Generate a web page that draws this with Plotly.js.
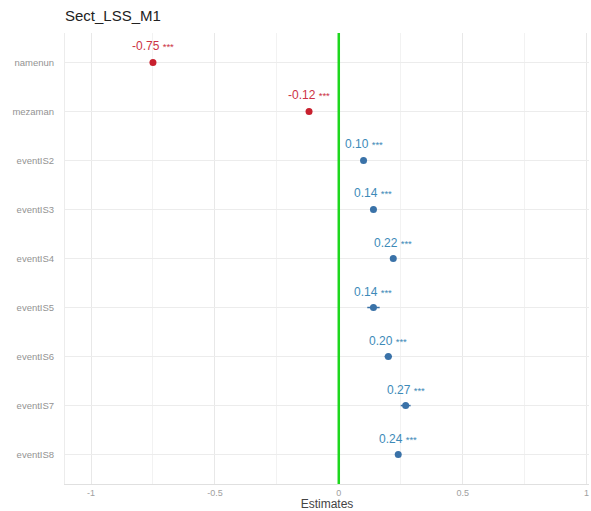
<!DOCTYPE html>
<html><head><meta charset="utf-8">
<script src="https://cdn.plot.ly/plotly-3.0.1.min.js"></script>
<style>html,body{margin:0;padding:0;background:#fff}</style>
</head><body>
<div id="chart" style="width:591px;height:511px"></div>
<script>
const terms = ["namenun","mezaman","eventIS2","eventIS3","eventIS4","eventIS5","eventIS6","eventIS7","eventIS8"];
const estimates = [-0.75, -0.12, 0.10, 0.14, 0.22, 0.14, 0.20, 0.27, 0.24];
const ciLow  = [-0.76, -0.13, 0.09, 0.13, 0.21, 0.115, 0.185, 0.25, 0.23];
const ciHigh = [-0.74, -0.11, 0.11, 0.15, 0.23, 0.165, 0.215, 0.29, 0.25];
const stars = ["***","***","***","***","***","***","***","***","***"];
const refLine = 0;

const red = "#c8202e", blue = "#3a72a8";
const redText = "#cc3344", blueText = "#3d8ab8";

function mk(sel, color) {
  const idx = estimates.map((v,i)=>i).filter(sel);
  return {
    type: "scatter", mode: "markers",
    x: idx.map(i=>estimates[i]), y: idx.map(i=>terms[i]),
    marker: {color: color, size: 7},
    error_x: {type: "data", symmetric: false,
      array: idx.map(i=>ciHigh[i]-estimates[i]),
      arrayminus: idx.map(i=>estimates[i]-ciLow[i]),
      color: color, thickness: 1.5, width: 0},
    hoverinfo: "x+y", showlegend: false
  };
}
const traces = [mk(i=>estimates[i]<0, red), mk(i=>estimates[i]>=0, blue)];

const annotations = terms.map((t,i)=>({
  x: estimates[i], y: t, xref: "x", yref: "y",
  text: estimates[i].toFixed(2) + ' <span style="font-size:9.5px">' + stars[i] + '</span>',
  showarrow: false, yshift: 16,
  font: {family: "Liberation Sans, Arial, sans-serif", size: 12, color: estimates[i]<0 ? redText : blueText}
}));

const layout = {
  width: 591, height: 511,
  margin: {l: 65, r: 2, t: 33, b: 27},
  paper_bgcolor: "#fff", plot_bgcolor: "#fff",
  font: {family: "Liberation Sans, Arial, sans-serif", color: "#444"},
  title: {text: "Sect_LSS_M1", x: 0, xref: "paper", xanchor: "left", y: 1, yref: "container", yanchor: "top", pad: {t: 10},
          font: {size: 15, color: "#222"}},
  xaxis: {
    range: [-1.105, 1.01], zeroline: false,
    tickvals: [-1,-0.5,0,0.5,1], ticktext: ["-1","-0.5","0","0.5","1"],
    showgrid: true, gridcolor: "#e8e8e8", gridwidth: 1,
    minor: {tickvals: [-0.75,-0.25,0.25,0.75], showgrid: true, gridcolor: "#f2f2f2", gridwidth: 1},
    showline: true, linecolor: "#e0e0e0", linewidth: 1,
    ticks: "", tickfont: {size: 9, color: "#a0a0a0"},
    title: {text: "Estimates", standoff: 4, font: {size: 12, color: "#444"}},
    fixedrange: true
  },
  yaxis: {
    type: "category", categoryorder: "array", categoryarray: terms,
    range: [8.6, -0.6], showgrid: true, gridcolor: "#ececec", gridwidth: 1,
    showline: true, linecolor: "#ececec", zeroline: false,
    ticks: "", tickfont: {size: 9.5, color: "#939393"}, ticklabelstandoff: 8,
    fixedrange: true
  },
  shapes: [{type: "line", xref: "x", yref: "paper", x0: refLine, x1: refLine, y0: 0, y1: 1,
            line: {color: "rgb(30,215,30)", width: 2.5}, layer: "above"}],
  annotations: annotations
};
Plotly.newPlot("chart", traces, layout, {displayModeBar: false, staticPlot: true});
</script>
</body></html>
